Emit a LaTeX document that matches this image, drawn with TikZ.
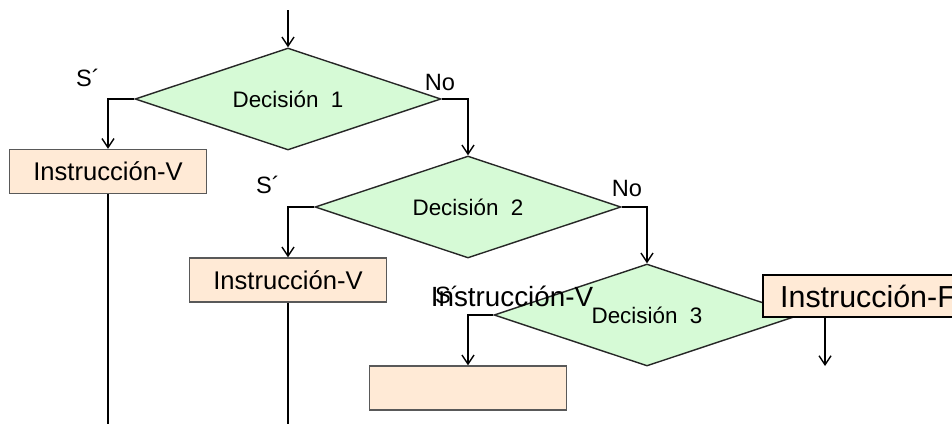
\documentclass[tikz,border=0pt]{standalone}
\usepackage{fontspec}
\setmainfont{Liberation Sans}
\usetikzlibrary{shapes.geometric,arrows.meta}

\definecolor{decgreen}{RGB}{214,250,214}
\definecolor{instpeach}{RGB}{255,234,214}

\tikzset{
    decision/.style={diamond, draw=black!85, fill=decgreen, aspect=3, inner sep=0pt,
        minimum width=153pt, minimum height=51pt, font=\fontsize{11.2}{13}\selectfont},
    instr/.style={rectangle, draw=black!65, fill=instpeach, inner sep=0pt,
        minimum width=98.5pt, minimum height=22pt, font=\fontsize{12.8}{15}\selectfont},
    branch/.style={font=\fontsize{11.8}{13}\selectfont},
}

\begin{document}
\begin{tikzpicture}[x=0.5pt, y=-0.5pt, line width=0.7pt,
    >={Straight Barb[length=4.5pt,width=6pt]}]
    \useasboundingbox (0,0) rectangle (952,424);

    % decisions
    \coordinate (start) at (288,10);
    \node[decision] (dec1) at (288,99) {Decisión\ \ 1};
    \node[decision] (dec2) at (468,207) {Decisión\ \ 2};
    \node[decision] (dec3) at (647,315) {Decisión\ \ 3};

    % true branches
    \node[instr] (instv1) at (108,171.5) {Instrucción-V};
    \node[instr] (instv2) at (288,280) {Instrucción-V};
    \node[instr] (instv3) at (468,388) {};

    \node[branch] (si1) at (88,78) {S´};
    \node[branch] (no1) at (440,82) {No};
    \node[branch] (si2) at (268,185) {S´};
    \node[branch] (no2) at (627,188) {No};
    \node[branch] (si3) at (447,295) {S´};
    \node[anchor=base, font=\fontsize{13.9}{16}\selectfont] (stray) at (512,306) {Instrucción-V};

    \draw[->] (start) -- (dec1.north);
    \draw[->] (dec1.west) -| (instv1.north);
    \draw[->] (dec1.east) -| (dec2.north);
    \draw[->] (dec2.west) -| (instv2.north);
    \draw[->] (dec2.east) -| (dec3.north);
    \draw[->] (dec3.west) -| (instv3.north);

    \coordinate (out1) at (108,424);
    \coordinate (out2) at (288,424);
    \draw (instv1.south) -- (out1);
    \draw (instv2.south) -- (out2);

    % false branch of the last decision
    \node[instr, draw=black, line width=1pt, minimum width=105pt, minimum height=21pt,
        font=\fontsize{15.2}{18}\selectfont] (instf) at (868,296) {Instrucción-F};
    \coordinate (fout) at (825,366);
    \draw[->] (fout |- instf.south) -- (fout);
\end{tikzpicture}
\end{document}
